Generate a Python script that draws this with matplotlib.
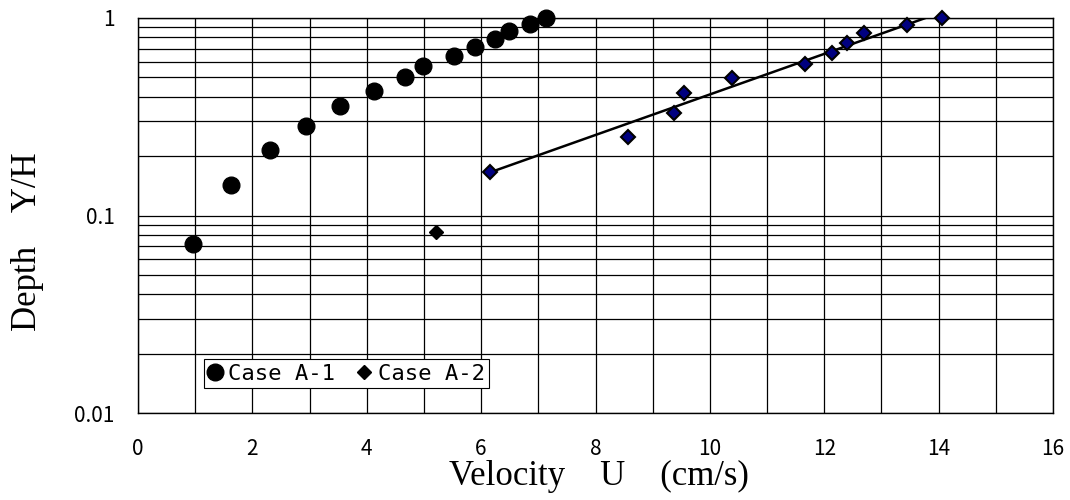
import numpy as np
import matplotlib
matplotlib.use("Agg")
import matplotlib.pyplot as plt
from matplotlib.ticker import FixedLocator, NullFormatter

# Case A-1 (circles)
a1_u = [0.97, 1.63, 2.31, 2.94, 3.54, 4.13, 4.67, 4.99, 5.52, 5.89, 6.24, 6.48, 6.85, 7.14]
a1_yh = [0.0715, 0.143, 0.214, 0.285, 0.357, 0.428, 0.501, 0.571, 0.642, 0.716, 0.786, 0.856, 0.933, 1.0]

# Case A-2 (diamonds); the lowest point is drawn black, the rest navy
a2_low_u = [5.21]
a2_low_yh = [0.0828]
a2_u = [6.16, 8.57, 9.38, 9.55, 10.38, 11.67, 12.13, 12.40, 12.69, 13.44, 14.06]
a2_yh = [0.1655, 0.25, 0.332, 0.416, 0.499, 0.583, 0.667, 0.750, 0.836, 0.918, 1.0]

# trend line through Case A-2, ends
trend_u = [6.16, 13.77]
trend_yh = [0.1655, 1.0]

x_ticks = [0, 2, 4, 6, 8, 10, 12, 14, 16]
y_ticks = [0.01, 0.1, 1]
y_tick_labels = ["0.01", "0.1", "1"]

TICK_FONT = ["Noto Sans CJK JP", "DejaVu Sans"]
LABEL_FONT = "Liberation Serif"

fig = plt.figure(figsize=(10.7, 5.0), dpi=100)
ax = fig.add_axes([138 / 1070, 87 / 500, 915 / 1070, 395 / 500])

ax.set_yscale("log")
ax.set_xlim(0, 16)
ax.set_ylim(0.01, 1)

# grid: every unit in x, every minor decade step in y
ax.xaxis.set_major_locator(FixedLocator(x_ticks))
ax.xaxis.set_minor_locator(FixedLocator(np.arange(0, 17, 1)))
ax.yaxis.set_major_locator(FixedLocator(y_ticks))
ax.yaxis.set_minor_locator(FixedLocator(
    [m * d for d in (0.01, 0.1) for m in range(2, 10)]))
ax.yaxis.set_minor_formatter(NullFormatter())
ax.set_xticklabels([str(t) for t in x_ticks])
ax.set_yticklabels(y_tick_labels)
ax.grid(True, which="both", color="black", lw=0.9)
ax.set_axisbelow(True)
ax.tick_params(which="both", length=0)
ax.tick_params(axis="x", pad=18)
ax.tick_params(axis="y", pad=17)
for lab in ax.get_xticklabels() + ax.get_yticklabels():
    lab.set_family(TICK_FONT)
    lab.set_fontsize(15)
for sp in ax.spines.values():
    sp.set_color("black")
    sp.set_linewidth(1.0)

ax.plot(trend_u, trend_yh, color="black", lw=1.8, zorder=3)
ax.plot(a1_u, a1_yh, "o", color="black", ms=12, ls="none",
        label="Case A-1", zorder=4, clip_on=False)
ax.plot(a2_low_u, a2_low_yh, "D", color="black", ms=7.5, ls="none",
        label="Case A-2", zorder=4, clip_on=False)
ax.plot(a2_u, a2_yh, "D", mfc="#000080", mec="black", mew=1.5, ms=7,
        ls="none", zorder=4, clip_on=False)

leg = ax.legend(loc="lower left", bbox_to_anchor=(0.072, 0.063), ncol=2,
                borderaxespad=0, fancybox=False, framealpha=1,
                edgecolor="black", handlelength=0.6, handletextpad=0.3,
                columnspacing=1.0, borderpad=0.2,
                prop={"family": "DejaVu Sans Mono", "size": 16})
leg.get_frame().set_linewidth(0.8)

fig.text(599 / 1070, 1 - 476 / 500, "Velocity    U    (cm/s)",
         family=LABEL_FONT, fontsize=25, ha="center", va="center")
fig.text(28 / 1070, 1 - 242 / 500, "Depth    Y/H", family=LABEL_FONT,
         fontsize=25, ha="center", va="center", rotation=90)

fig.savefig("out.png", dpi=100)
